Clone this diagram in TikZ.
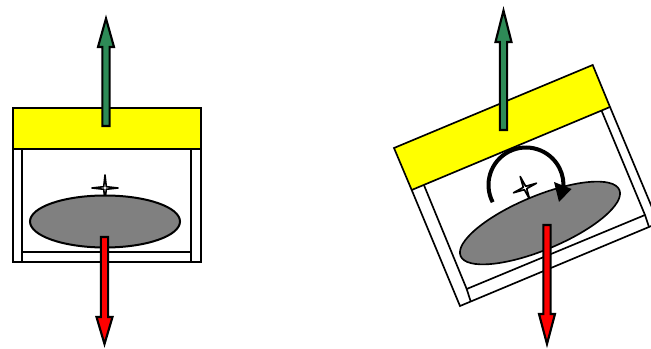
\documentclass[tikz,border=0pt]{standalone}
\definecolor{pgreen}{RGB}{46,139,87}
\definecolor{pyellow}{RGB}{255,255,0}
\definecolor{pred}{RGB}{255,0,0}
\definecolor{pgray}{RGB}{128,128,128}
\tikzset{
  part/.style={draw=black,line width=1.5pt,line join=miter},
  thinpart/.style={draw=black,line width=1.25pt,line join=miter},
  fatarrow/.style={draw=black,line width=1.6pt,line join=miter},
  starshape/.style={draw=black,fill=white,line width=1.2pt,line join=round},
}
% \forcearrow{tail y}{head base y}{tip y}{x}{colour}
\newcommand{\forcearrow}[5]{%
  \filldraw[fatarrow,fill=#5] (#4-3.6,#1) -- (#4-3.6,#2) -- (#4-8,#2) -- (#4,#3) -- (#4+8,#2) -- (#4+3.6,#2) -- (#4+3.6,#1) -- cycle;}
% \spark{x}{y}{angle}{radius}
\newcommand{\spark}[4]{%
  \begin{scope}[shift={(#1,#2)},rotate=#3]
    \filldraw[starshape] (-#4,0) -- (-1.3,-1.3) -- (0,-#4) -- (1.3,-1.3) -- (#4,0) -- (1.3,1.3) -- (0,#4) -- (-1.3,1.3) -- cycle;
  \end{scope}}
\begin{document}
\begin{tikzpicture}[x=0.75pt,y=-0.75pt]
\useasboundingbox[clip] (0,0) rectangle (651,349);
% left figure
\draw[part] (12.5,149) rectangle (200.5,262.5);
\draw[part] (22,149) -- (22,252.5) -- (191,252.5) -- (191,149);
\draw[part] (22,252.5) -- (22,262.5) (191,252.5) -- (191,262.5);
\spark{105}{188}{0}{13}
\filldraw[part,fill=pgray] (105,221.5) ellipse [x radius=75,y radius=26];
\filldraw[part,fill=pyellow] (12.5,108) rectangle (200.5,149);
\forcearrow{126}{47}{18.5}{106}{pgreen}
\forcearrow{237}{317}{344}{104.5}{pred}
% right figure
\draw[thinpart] (411.7,190) -- (460,306) -- (658.5,223) -- (610,107);
\draw[thinpart] (423.7,184.5) -- (466.7,289) -- (645,215) -- (601.7,111);
\draw[thinpart] (466.7,289) -- (470.7,301.5);
\draw[thinpart] (645,215) -- (649,227);
\spark{525}{188}{22.6}{12.5}
\filldraw[thinpart,fill=pgray] (540,223) ellipse [x radius=86,y radius=27,rotate=22.6];
\filldraw[thinpart,fill=pyellow] (394,148) -- (592.7,65) -- (610,107) -- (411.7,190) -- cycle;
\draw[line width=3pt] (526,185) ++(152.7:37.5) arc[start angle=152.7,end angle=368,radius=37.5];
\fill (554,182) -- (571.5,189) -- (559,202) -- cycle;
\forcearrow{130}{42}{10.5}{503.5}{pgreen}
\forcearrow{225}{314}{344}{547}{pred}
\end{tikzpicture}
\end{document}
